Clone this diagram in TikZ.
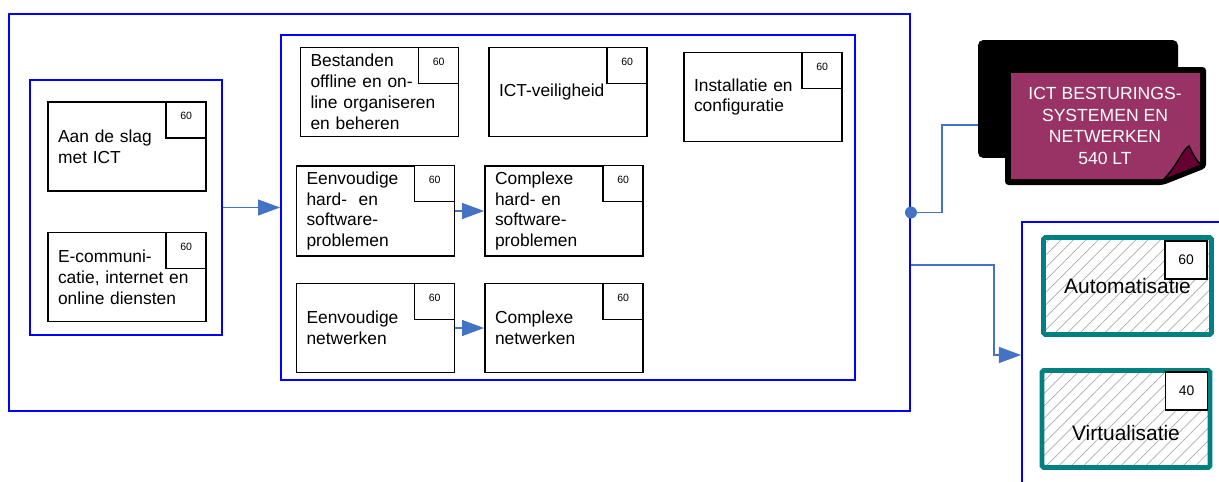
\documentclass[tikz,border=0pt]{standalone}
\usepackage{fontspec}
\setmainfont{Liberation Sans}
\usetikzlibrary{arrows.meta,patterns.meta}
\definecolor{lijn}{RGB}{68,114,196}
\definecolor{kader}{RGB}{0,0,255}
\definecolor{keuzerand}{RGB}{0,128,128}
\definecolor{notitie}{RGB}{153,51,102}
\definecolor{krul}{RGB}{102,0,51}
\begin{document}
\begin{tikzpicture}[x=0.02cm,y=-0.02cm,
  module/.style={draw,line width=1.1pt,minimum width=3.16cm,minimum height=1.78cm,text width=2.76cm,inner xsep=0.2cm,align=left,font=\fontsize{9.9}{11.9}\selectfont},
  uren/.style={draw,line width=0.9pt,fill=white,minimum width=0.8cm,minimum height=0.72cm,inner sep=0pt,text height=0.16cm,text depth=0.16cm,font=\fontsize{6}{7}\selectfont},
  groep/.style={draw=kader,line width=1.2pt,inner sep=0pt},
  keuze/.style={draw=keuzerand,line width=2.8pt,rounded corners=1pt,minimum width=3.36cm,minimum height=1.94cm,pattern={Lines[angle=45,distance=5pt,line width=0.4pt]},pattern color=gray!65,font=\fontsize{11.9}{14}\selectfont},
  verbind/.style={draw=lijn,line width=0.6pt},
  pijl/.style={verbind,-{Triangle[length=0.44cm,width=0.32cm]}}]
\useasboundingbox(0,0)rectangle(1219,481);
\clip(0,0)rectangle(1219,481);
% kaders
\node[groep,minimum width=18.02cm,minimum height=7.94cm](opleiding)at(459.5,212.5){};
\node[groep,minimum width=3.84cm,minimum height=5.1cm](basis)at(126,207.5){};
\node[groep,minimum width=11.48cm,minimum height=6.9cm](kern)at(568,207.5){};
\node[groep,minimum width=4.36cm,minimum height=5.32cm](keuzedeel)at(1131,355){};
% modules
\node[module](aan)at(127,146.5){Aan de slag\\met ICT};
\node[module](ecom)at(127,277){E-communi-\\catie, internet en\\online diensten};
\node[module](best)at(379.5,92){Bestanden\\offline en on-\\line organiseren\\en beheren};
\node[module](veil)at(568,92){ICT-veiligheid};
\node[module](inst)at(763,97){Installatie en\\configuratie};
\node[module](ehard)at(375.5,211){Eenvoudige\\hard-\ \ en\\software-\\problemen};
\node[module](chard)at(564,211){Complexe\\hard- en\\software-\\problemen};
\node[module](enet)at(375.5,328){Eenvoudige\\netwerken};
\node[module](cnet)at(564,328){Complexe\\netwerken};
\foreach \m in {aan,ecom,best,veil,inst,ehard,chard,enet,cnet}
  \node[uren,anchor=north east](\m-uren)at(\m.north east){60};
% keuzemodules
\node[keuze](auto)at(1127.5,286){Automatisatie};
\node[keuze,text height=0.85cm](virt)at(1126,419){Virtualisatie};
\node[uren,anchor=north east,minimum width=0.84cm,minimum height=0.76cm,text height=,text depth=,font=\fontsize{7.9}{9}\selectfont](auto-uren)at([xshift=-0.08cm,yshift=-0.06cm]auto.north east){60};
\node[uren,anchor=north east,minimum width=0.84cm,minimum height=0.76cm,text height=,text depth=,font=\fontsize{7.9}{9}\selectfont](virt-uren)at([xshift=-0.08cm,yshift=-0.06cm]virt.north east){40};
% notitie
\node[fill=black,rounded corners=3pt,minimum width=4cm,minimum height=2.36cm](stapel)at(1078,99){};
\fill[black,rounded corners=2pt](1005,67)--(1206,67)--(1206,168)--(1163,185)--(1005,185)--cycle;
\fill[notitie](1011,73)--(1200,73)--(1200,165)--(1165,179)--(1011,179)--cycle;
\filldraw[fill=krul,draw=black,line width=0.8pt](1163,180)..controls(1178,165)and(1182,150)..(1189,146)..controls(1193,154)and(1196,160)..(1201,165)--cycle;
\node[text=white,align=center,font=\fontsize{10}{12.3}\selectfont](totaal)at(1105,126){ICT BESTURINGS-\\SYSTEMEN EN\\NETWERKEN\\540 LT};
% verbindingen
\draw[pijl](basis)--(kern);
\draw[pijl](ehard)--(chard);
\draw[pijl](enet)--(cnet);
\coordinate(aansluit)at([yshift=-0.52cm]stapel.west);
\coordinate(splits)at([yshift=-1.05cm]opleiding.east);
\draw[verbind](opleiding.east)--++(31,0)|-(aansluit);
\fill[lijn](opleiding.east)circle(0.12cm);
\draw[pijl](splits)--++(83,0)|-(keuzedeel.west);
\end{tikzpicture}
\end{document}
